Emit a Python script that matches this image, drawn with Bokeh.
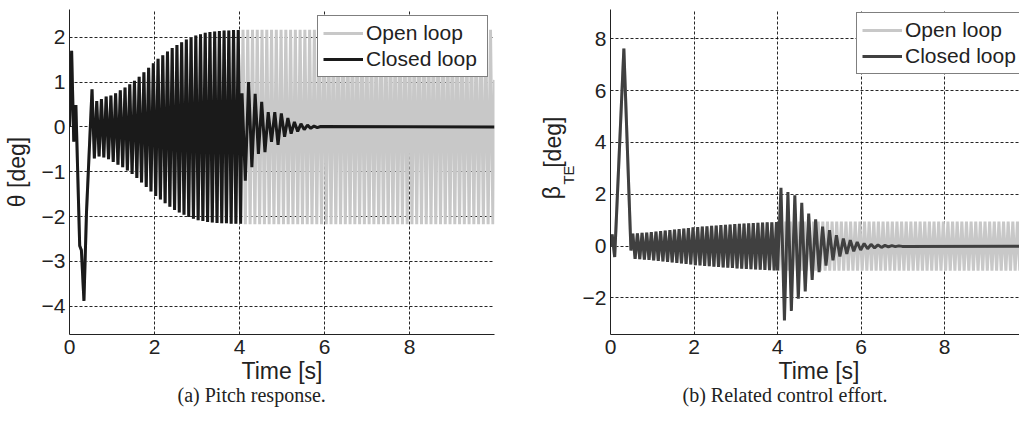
import numpy as np
from bokeh.plotting import figure
from bokeh.layouts import row
from bokeh.models import FixedTicker, Label, Legend, LegendItem, Range1d, Title
from bokeh.embed import file_html
from bokeh.resources import INLINE

# ---------------- data ----------------
# (a) Pitch response, theta [deg]
a_start_t = [0.00, 0.05, 0.10, 0.15, 0.24, 0.28, 0.34, 0.40, 0.53]
a_start_v = [0.00, 1.70, -0.33, 0.49, -2.65, -2.75, -3.88, -1.90, 0.84]
a_osc_t0, a_osc_half = 0.585, 0.0555
a_troughs = [-0.70, -0.66, -0.68, -0.72, -0.78, -0.84, -0.90, -0.97, -1.05, -1.14,
             -1.24, -1.34, -1.44, -1.54, -1.62, -1.70, -1.78, -1.85, -1.91, -1.96,
             -2.01, -2.05, -2.08, -2.10, -2.12, -2.13, -2.14, -2.15, -2.15, -2.16,
             -2.16, -2.16]
a_peaks = [0.58, 0.62, 0.68, 0.70, 0.75, 0.82, 0.88, 0.95, 1.03, 1.12,
           1.22, 1.32, 1.42, 1.52, 1.60, 1.68, 1.76, 1.83, 1.89, 1.95,
           2.00, 2.04, 2.07, 2.10, 2.12, 2.13, 2.14, 2.15, 2.15, 2.16,
           2.16]
# closed loop after the controller switches on at 4 s
a_cl_t0, a_cl_half = 4.06, 0.077
a_cl_after = [0.75, -1.20, 1.00, -0.90, 0.74, -0.60, 0.56, -0.56, 0.33, -0.33,
              0.33, -0.40, 0.30, -0.22, 0.20, -0.15, 0.11, -0.10, 0.07, -0.06,
              0.04, -0.03, 0.02, -0.015, 0.01]
a_cl_end = 0.0
# open loop after 4 s (peaks / troughs)
a_ol_half = 0.056
a_ol_peaks = [2.17, 2.17, 2.17, 2.17, 2.17, 2.17, 2.17, 2.17, 2.17, 2.17,
              2.17, 2.17, 2.17, 2.17, 2.17, 2.17, 2.17, 2.17, 2.17, 2.17,
              2.17, 2.17, 2.17, 2.17, 2.17, 2.17, 2.17, 2.17, 2.17, 2.17,
              2.17, 2.17, 2.17, 2.17, 2.17, 2.17, 2.17, 2.17, 2.17, 2.17,
              2.17, 2.17, 2.17, 2.17, 2.17, 2.17, 2.17, 2.17, 2.17, 2.17,
              2.17, 2.17, 2.17]
a_ol_troughs = [-2.17, -2.17, -2.17, -2.17, -2.17, -2.17, -2.17, -2.17, -2.17, -2.17,
                -2.17, -2.17, -2.17, -2.17, -2.17, -2.17, -2.17, -2.17, -2.17, -2.17,
                -2.17, -2.17, -2.17, -2.17, -2.17, -2.17, -2.17, -2.17, -2.17, -2.17,
                -2.17, -2.17, -2.17, -2.17, -2.17, -2.17, -2.17, -2.17, -2.17, -2.17,
                -2.17, -2.17, -2.17, -2.17, -2.17, -2.17, -2.17, -2.17, -2.17, -2.17,
                -2.17, -2.17, -2.17]
a_ol_end = 1.05

# (b) Related control effort, beta_TE [deg]
b_start_t = [0.00, 0.04, 0.10, 0.32, 0.49]
b_start_v = [0.00, 0.45, -0.42, 7.62, -0.17]
b_osc_t0, b_osc_half = 0.534, 0.0555
b_peaks = [0.48, 0.49, 0.51, 0.52, 0.54, 0.56, 0.58, 0.60, 0.62, 0.64,
           0.66, 0.68, 0.70, 0.72, 0.73, 0.75, 0.76, 0.78, 0.79, 0.81,
           0.82, 0.83, 0.85, 0.86, 0.87, 0.88, 0.89, 0.90, 0.91, 0.92,
           0.92, 0.93]
b_troughs = [-0.49, -0.50, -0.52, -0.53, -0.55, -0.57, -0.59, -0.61, -0.63, -0.65,
             -0.67, -0.69, -0.71, -0.73, -0.74, -0.76, -0.77, -0.79, -0.80, -0.82,
             -0.83, -0.84, -0.86, -0.87, -0.88, -0.89, -0.90, -0.91, -0.92, -0.93,
             -0.94]
b_cl_t0, b_cl_half = 4.00, 0.083
b_cl_after = [-0.94, 2.25, -2.87, 2.09, -2.50, 1.96, -2.03, 1.67, -1.75, 1.26,
              -1.30, 1.03, -1.00, 0.75, -0.75, 0.62, -0.55, 0.42, -0.40, 0.29,
              -0.30, 0.23, -0.20, 0.16, -0.15, 0.10, -0.10, 0.07, -0.07, 0.05,
              -0.05, 0.03, -0.03, 0.02, -0.02, 0.01, -0.01]
b_cl_end = 0.0
b_ol_half = 0.0555
b_ol_troughs = [-0.95, -0.95, -0.95, -0.95, -0.95, -0.95, -0.95, -0.95, -0.95, -0.95,
                -0.95, -0.95, -0.95, -0.95, -0.95, -0.95, -0.95, -0.95, -0.95, -0.95,
                -0.95, -0.95, -0.95, -0.95, -0.95, -0.95, -0.95, -0.95, -0.95, -0.95,
                -0.95, -0.95, -0.95, -0.95, -0.95, -0.95, -0.95, -0.95, -0.95, -0.95,
                -0.95, -0.95, -0.95, -0.95, -0.95, -0.95, -0.95, -0.95, -0.95, -0.95,
                -0.95, -0.95, -0.95, -0.95]
b_ol_peaks = [0.95, 0.95, 0.95, 0.95, 0.95, 0.95, 0.95, 0.95, 0.95, 0.95,
              0.95, 0.95, 0.95, 0.95, 0.95, 0.95, 0.95, 0.95, 0.95, 0.95,
              0.95, 0.95, 0.95, 0.95, 0.95, 0.95, 0.95, 0.95, 0.95, 0.95,
              0.95, 0.95, 0.95, 0.95, 0.95, 0.95, 0.95, 0.95, 0.95, 0.95,
              0.95, 0.95, 0.95, 0.95, 0.95, 0.95, 0.95, 0.95, 0.95, 0.95,
              0.95, 0.95, 0.95, 0.95]

a_xticks = [0, 2, 4, 6, 8]
a_yticks = [-4, -3, -2, -1, 0, 1, 2]
b_xticks = [0, 2, 4, 6, 8]
b_yticks = [-2, 0, 2, 4, 6, 8]
series_names = ["Open loop", "Closed loop"]
captions = ["(a) Pitch response.", "(b) Related control effort."]
x_title = "Time [s]"


# ---------------- helpers ----------------
def interleave(first, second):
    out = []
    for i in range(max(len(first), len(second))):
        if i < len(first):
            out.append(first[i])
        if i < len(second):
            out.append(second[i])
    return out


def times(t0, half, n):
    return list(t0 + half * np.arange(n))


# ---- series (a)
a_osc_v = interleave(a_troughs, a_peaks)
a_osc_t = times(a_osc_t0, a_osc_half, len(a_osc_v))
a_pre_t = a_start_t + a_osc_t
a_pre_v = a_start_v + a_osc_v
a_cl_t = a_pre_t + times(a_cl_t0, a_cl_half, len(a_cl_after)) + [10.0]
a_cl_v = a_pre_v + a_cl_after + [a_cl_end]
a_ol_after = interleave(a_ol_peaks, a_ol_troughs)
a_ol_t = a_pre_t + times(a_osc_t[-1] + a_ol_half, a_ol_half, len(a_ol_after)) + [10.0]
a_ol_v = a_pre_v + a_ol_after + [a_ol_end]

# ---- series (b)
b_osc_v = interleave(b_peaks, b_troughs)
b_osc_t = times(b_osc_t0, b_osc_half, len(b_osc_v))
b_pre_t = b_start_t + b_osc_t
b_pre_v = b_start_v + b_osc_v
b_cl_t = b_pre_t + times(b_cl_t0, b_cl_half, len(b_cl_after)) + [10.0]
b_cl_v = b_pre_v + b_cl_after + [b_cl_end]
b_ol_after = interleave(b_ol_troughs, b_ol_peaks)
b_ol_t = b_pre_t + times(b_osc_t[-1] + b_ol_half, b_ol_half, len(b_ol_after))
b_ol_v = b_pre_v + b_ol_after

SANS = "Liberation Sans"
SERIF = "Liberation Serif"
GREY = "#c8c8c8"
TXT = "#222222"

# geometry (px)
H = 425
FRAME_BOTTOM = 334
A_W, A_LEFT, A_FRAME_W, A_TOP = 505, 69, 425, 7
L_W = 73               # canvas holding the rotated beta_TE label
B_W, B_LEFT, B_FRAME_W, B_TOP = 441, 32, 409, 9
A_XR, A_YR = (0.0, 10.0), (-4.63, 2.62)
B_XR, B_YR = (0.0, 9.796), (-3.41, 9.13)


def make_fig(width, left, right, top, xr, yr, xt, yt):
    p = figure(width=width, height=H, x_range=Range1d(*xr), y_range=Range1d(*yr),
               output_backend="svg", toolbar_location=None, title=None,
               min_border_left=left, min_border_right=right,
               min_border_top=top, min_border_bottom=H - FRAME_BOTTOM)
    p.outline_line_color = None
    p.background_fill_color = "white"
    p.border_fill_color = "white"
    p.xaxis.ticker = FixedTicker(ticks=xt)
    p.yaxis.ticker = FixedTicker(ticks=yt)
    p.yaxis.major_label_overrides = {v: (str(v) if v >= 0 else "\u2212" + str(-v)) for v in yt}
    for ax in (p.xaxis[0], p.yaxis[0]):
        ax.major_tick_in = 0
        ax.major_tick_out = 0
        ax.minor_tick_in = 0
        ax.minor_tick_out = 0
        ax.axis_line_color = TXT
        ax.axis_line_width = 1
        ax.major_label_text_font = SANS
        ax.major_label_text_font_size = "21px"
        ax.major_label_text_color = TXT
    p.xaxis.major_label_standoff = 5
    p.yaxis.major_label_standoff = 4
    for g in (p.xgrid[0], p.ygrid[0]):
        g.grid_line_color = "#000000"
        g.grid_line_alpha = 0.85
        g.grid_line_dash = "3 2"
        g.grid_line_width = 1
    p.xgrid.ticker = FixedTicker(ticks=[v for v in xt if v != 0])
    return p


def add_bottom_texts(p, time_offset, caption, caption_offset):
    # texts below the x axis, stacked outward: x title, then the caption
    p.add_layout(Title(text=x_title, align="left", offset=time_offset, standoff=3,
                       vertical_align="top", text_font=SANS, text_font_size="23px",
                       text_font_style="normal", text_color=TXT), "below")
    p.add_layout(Title(text=caption, align="left", offset=caption_offset, standoff=-8,
                       vertical_align="top", text_font=SERIF, text_font_size="20px",
                       text_font_style="normal", text_color=TXT), "below")


def make_legend(renderers, **kw):
    return Legend(items=[LegendItem(label=series_names[0], renderers=[renderers[0]]),
                         LegendItem(label=series_names[1], renderers=[renderers[1]])],
                  padding=5, spacing=2, glyph_width=40, glyph_height=20, label_height=20,
                  label_width=116, label_standoff=3, label_text_font=SANS,
                  label_text_font_size="21px", label_text_color=TXT,
                  border_line_color="#000000", border_line_width=1,
                  background_fill_color="white", background_fill_alpha=1.0, **kw)


# ---------------- panel (a) ----------------
pa = make_fig(A_W, A_LEFT, A_W - A_LEFT - A_FRAME_W, A_TOP, A_XR, A_YR, a_xticks, a_yticks)
ol_a = pa.line(a_ol_t, a_ol_v, line_color=GREY, line_width=3)
cl_a = pa.line(a_cl_t, a_cl_v, line_color="#1a1a1a", line_width=3)
pa.yaxis.axis_label = "\u03b8 [deg]"
pa.yaxis.axis_label_text_font = SANS
pa.yaxis.axis_label_text_font_size = "23px"
pa.yaxis.axis_label_text_font_style = "normal"
pa.yaxis.axis_label_text_color = TXT
pa.yaxis.axis_label_standoff = 9
pa.add_layout(make_legend([ol_a, cl_a], location="top_right", margin=6))
add_bottom_texts(pa, 172, captions[0], 108)

# ---------------- rotated y label of panel (b) ----------------
pl = figure(width=L_W, height=H, x_range=Range1d(A_W, A_W + L_W), y_range=Range1d(H, 0),
            output_backend="svg", toolbar_location=None, title=None,
            x_axis_type=None, y_axis_type=None, min_border=0, min_border_left=0,
            min_border_right=0, min_border_top=0, min_border_bottom=0)
pl.outline_line_color = None
pl.grid.visible = False
pl.background_fill_color = "white"
pl.border_fill_color = "white"
for txt, px, py, size in [("\u03b2", 551, 248, "23px"), ("TE", 567.5, 229, "15px"),
                          ("[deg]", 552, 207, "23px")]:
    pl.add_layout(Label(x=px, y=py, text=txt, angle=90, angle_units="deg",
                        text_align="left", text_baseline="middle", text_font=SANS,
                        text_font_size=size, text_color=TXT))

# ---------------- panel (b) ----------------
pb = make_fig(B_W, B_LEFT, 0, B_TOP, B_XR, B_YR, b_xticks, b_yticks)
ol_b = pb.line(b_ol_t, b_ol_v, line_color=GREY, line_width=3)
cl_b = pb.line(b_cl_t, b_cl_v, line_color="#404040", line_width=3)
pb.add_layout(make_legend([ol_b, cl_b], location=(246, 260)))
add_bottom_texts(pb, 168, captions[1], 72)

layout = row(pa, pl, pb, spacing=0)
open("out.html", "w").write(file_html(layout, INLINE))
